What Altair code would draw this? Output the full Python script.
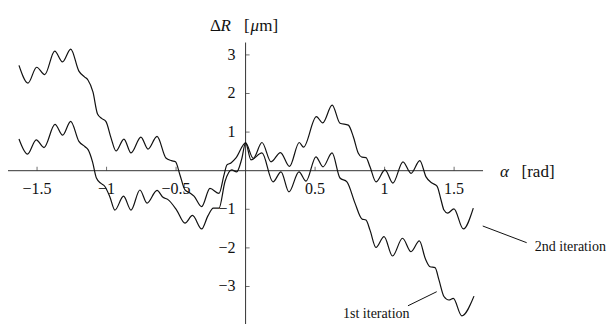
import altair as alt
import pandas as pd

# ---- data ----
first_x = [-1.630, -1.565, -1.503, -1.445, -1.373, -1.317, -1.258, -1.199, -1.159, -1.134,
           -1.098, -1.065, -1.033, -1.004, -0.968, -0.932, -0.875, -0.824, -0.753, -0.702,
           -0.637, -0.573, -0.533, -0.504, -0.472, -0.436, -0.400, -0.371, -0.316, -0.256,
           -0.191, -0.155, -0.134, -0.105, -0.069, 0.0, 0.039, 0.118, 0.197, 0.255,
           0.312, 0.384, 0.435, 0.506, 0.557, 0.622, 0.679, 0.729, 0.787, 0.837,
           0.866, 0.895, 0.938, 0.996, 1.057, 1.129, 1.190, 1.250, 1.294, 1.327,
           1.363, 1.391, 1.427, 1.463, 1.494, 1.555, 1.643]
first_y = [2.73, 2.27, 2.68, 2.49, 3.10, 2.82, 3.15, 2.58, 2.43, 2.35,
           2.04, 1.47, 1.35, 1.27, 0.85, 0.51, 0.82, 0.46, 0.87, 0.56,
           0.89, 0.33, 0.26, 0.23, -0.11, -0.50, -0.58, -0.66, -0.93, -0.46,
           -0.59, -0.11, 0.15, 0.20, 0.33, 0.72, 0.28, 0.46, -0.29, -0.03,
           -0.55, -0.03, -0.27, 0.36, 0.10, 0.46, -0.19, -0.29, -0.84, -1.25,
           -1.28, -1.54, -1.99, -1.71, -2.21, -1.75, -2.10, -1.82, -2.29, -2.49,
           -2.51, -2.83, -3.26, -3.35, -3.31, -3.76, -3.25]

second_x = [-1.630, -1.569, -1.506, -1.450, -1.371, -1.316, -1.258, -1.199, -1.155, -1.132,
            -1.101, -1.073, -1.040, -1.012, -0.976, -0.940, -0.878, -0.824, -0.760, -0.709,
            -0.637, -0.594, -0.558, -0.496, -0.436, -0.382, -0.316, -0.271, -0.232, -0.191,
            -0.148, -0.100, -0.064, -0.028, 0.0, 0.055, 0.118, 0.183, 0.251, 0.316,
            0.386, 0.417, 0.509, 0.555, 0.623, 0.679, 0.739, 0.775, 0.811, 0.837,
            0.866, 0.895, 0.938, 1.003, 1.060, 1.132, 1.190, 1.253, 1.298, 1.341,
            1.377, 1.406, 1.427, 1.453, 1.499, 1.566, 1.638]
second_y = [0.82, 0.43, 0.80, 0.60, 1.20, 0.92, 1.28, 0.76, 0.62, 0.54,
            0.23, -0.19, -0.33, -0.41, -0.68, -1.02, -0.66, -1.02, -0.50, -0.84,
            -0.51, -0.69, -0.75, -1.02, -1.36, -1.16, -1.51, -1.17, -0.97, -0.97,
            -0.28, 0.02, -0.03, 0.30, 0.72, 0.32, 0.73, 0.23, 0.47, 0.11,
            0.73, 0.61, 1.40, 1.24, 1.70, 1.23, 1.18, 0.88, 0.45, 0.35,
            0.34, 0.10, -0.29, 0.02, -0.32, 0.23, -0.07, 0.26, -0.16, -0.32,
            -0.40, -0.76, -1.02, -1.10, -0.99, -1.51, -0.97]

x_ticks = [-1.5, -1.0, -0.5, 0.5, 1.0, 1.5]
x_tick_labels = ["\u22121.5", "\u22121", "\u22120.5", "0.5", "1", "1.5"]
y_ticks = [3, 2, 1, -1, -2, -3]
y_tick_labels = ["3", "2", "1", "\u22121", "\u22122", "\u22123"]

x_axis_extent = [-1.709, 1.708]
y_axis_extent = [3.32, -3.972]

# axis title pieces: text, x, y, italic
title_text = ["\u0394", "R", "[", "\u03bc", "m]", "\u03b1", "[rad]"]
title_x = [-0.256, -0.181, -0.012, 0.035, 0.098, 1.831, 1.985]
title_y = [3.76, 3.76, 3.76, 3.76, 3.76, -0.034, -0.034]
title_italic = [False, True, False, True, False, True, False]

# annotations
ann_text = ["2nd iteration", "1st iteration"]
ann_x = [2.080, 0.701]
ann_y = [-1.977, -3.70]
lead_x = [1.706, 1.375]
lead_y = [-1.433, -3.135]
lead_x2 = [2.022, 1.168]
lead_y2 = [-1.865, -3.50]

# ---- frames ----
assert len(first_x) == len(first_y) and len(second_x) == len(second_y)
curves = pd.DataFrame(
    [{"series": "1st iteration", "x": a, "y": b} for a, b in zip(first_x, first_y)]
    + [{"series": "2nd iteration", "x": a, "y": b} for a, b in zip(second_x, second_y)]
)

W, H = 600, 316
X_DOMAIN = [-1.709, 2.607]
Y_DOMAIN = [-3.972, 4.215]
xs = alt.Scale(domain=X_DOMAIN, nice=False, zero=False)
ys = alt.Scale(domain=Y_DOMAIN, nice=False, zero=False)
FONT = "'Liberation Serif', 'Times New Roman', 'DejaVu Serif', serif"
INK = "#111111"
AX = "#333333"


def X(f="x"):
    return alt.X(f + ":Q", scale=xs, axis=None)


def Y(f="y"):
    return alt.Y(f + ":Q", scale=ys, axis=None)


lines = alt.Chart(curves).mark_line(
    interpolate="monotone", color=INK, strokeWidth=1.2
).encode(x=X(), y=Y(), detail="series:N")

xaxis = alt.Chart(pd.DataFrame({"x": [x_axis_extent[0]], "x2": [x_axis_extent[1]], "y": [0.0]})).mark_rule(
    color=AX, strokeWidth=1
).encode(x=X(), x2="x2:Q", y=Y())

yaxis = alt.Chart(pd.DataFrame({"x": [0.0], "y": [y_axis_extent[0]], "y2": [y_axis_extent[1]]})).mark_rule(
    color=AX, strokeWidth=1
).encode(x=X(), y=Y(), y2="y2:Q")

xt_df = pd.DataFrame({"x": x_ticks, "y": [0.0] * len(x_ticks), "label": x_tick_labels})
yt_df = pd.DataFrame({"x": [0.0] * len(y_ticks), "y": y_ticks, "label": y_tick_labels})

xtick_marks = alt.Chart(xt_df).mark_tick(
    orient="vertical", size=4, thickness=1, color=AX, yOffset=-2
).encode(x=X(), y=Y())
ytick_marks = alt.Chart(yt_df).mark_tick(
    orient="horizontal", size=4, thickness=1, color=AX, xOffset=2
).encode(x=X(), y=Y())

xtick_text = alt.Chart(xt_df).mark_text(
    font=FONT, fontSize=16, color=INK, align="center", baseline="middle", dy=18
).encode(x=X(), y=Y(), text="label:N")
ytick_text = alt.Chart(yt_df).mark_text(
    font=FONT, fontSize=16, color=INK, align="right", baseline="middle", dx=-10
).encode(x=X(), y=Y(), text="label:N")

tdf = pd.DataFrame({"x": title_x, "y": title_y, "label": title_text, "it": title_italic})
titles_up = alt.Chart(tdf[~tdf["it"]]).mark_text(
    font=FONT, fontSize=17, color=INK, align="left", baseline="middle"
).encode(x=X(), y=Y(), text="label:N")
titles_it = alt.Chart(tdf[tdf["it"]]).mark_text(
    font=FONT, fontSize=17, fontStyle="italic", color=INK, align="left", baseline="middle"
).encode(x=X(), y=Y(), text="label:N")

lead_df = pd.DataFrame({"x": lead_x, "y": lead_y, "x2": lead_x2, "y2": lead_y2})
leaders = alt.Chart(lead_df).mark_rule(color=INK, strokeWidth=1).encode(
    x=X(), y=Y(), x2="x2:Q", y2="y2:Q"
)
ann_df = pd.DataFrame({"x": ann_x, "y": ann_y, "label": ann_text})
ann = alt.Chart(ann_df).mark_text(
    font=FONT, fontSize=14, color=INK, align="left", baseline="middle"
).encode(x=X(), y=Y(), text="label:N")

chart = alt.layer(
    xaxis, yaxis, xtick_marks, ytick_marks, lines, xtick_text, ytick_text,
    titles_up, titles_it, leaders, ann
).properties(
    width=W, height=H, autosize="none", padding=0, background="white"
).configure_view(stroke=None)

chart.save("out.html", embed_options={"renderer": "svg", "actions": False})
